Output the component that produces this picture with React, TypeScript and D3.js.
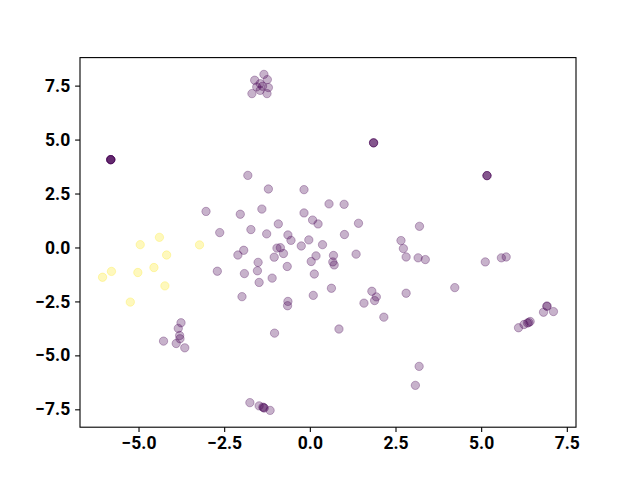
import { useEffect, useRef } from "react";
import * as d3 from "d3";

// label 0 (viridis low end); repeated entries are stacked points
const purpleX = [
  -1.34, -1.61, -1.24, -1.45, -1.55, -1.38, -1.21, -1.45, -1.69, -1.25,
  -5.81, -5.81, -5.81, -5.81, -5.81,
  1.86, 1.86, 1.86,
  5.17, 5.17, 5.17,
  -1.81, -1.21, -0.17, 0.56, 1.0, -3.03, -2.03, -1.4, -0.17, 0.08,
  0.24, 1.42, -0.92, -1.72, -1.26, -2.63, -0.64, 1.01, 3.2, -0.55,
  -0.03, 2.66, 0.37, -0.25, -0.96, -0.86, -1.93, -2.1, 2.73, -0.77,
  0.18, 0.69, 1.35, -1.04, 2.81, 3.16, 3.37, 5.12, 5.59, 5.73,
  -1.51, 0.04, 0.67, 0.71, -0.66, -2.7, -1.53, -1.91, 0.13, -1.1,
  -1.48, 0.63, 4.23, 1.81, 2.81, -1.98, 0.1, 1.94, 1.89, -0.64,
  -0.65, 1.58, 2.16, 0.85, -1.03, 3.19, 3.08,
  6.92, 6.92, 6.82, 7.11,
  6.09, 6.25, 6.35, 6.43, 6.39,
  -3.76, -3.84, -3.8, -3.79, -3.9, -4.27, -3.65,
  -1.75, -1.48, -1.37, -1.33, -1.35, -1.16,
];
const purpleY = [
  8.02, 7.75, 7.78, 7.59, 7.44, 7.47, 7.41, 7.28, 7.13, 7.13,
  4.07, 4.07, 4.07, 4.07, 4.07,
  4.85, 4.85, 4.85,
  3.33, 3.33, 3.33,
  3.34, 2.71, 2.68, 2.02, 2.0, 1.67, 1.54, 1.78, 1.6, 1.27,
  1.09, 1.12, 1.09, 0.83, 0.63, 0.69, 0.58, 0.6, 0.98, 0.33,
  0.35, 0.32, 0.13, 0.07, -0.03, -0.01, -0.13, -0.35, -0.05, -0.28,
  -0.39, -0.37, -0.31, -0.45, -0.44, -0.48, -0.56, -0.67, -0.48, -0.44,
  -0.69, -0.65, -0.67, -0.81, -0.88, -1.1, -1.08, -1.21, -1.23, -1.42,
  -1.62, -1.89, -1.86, -2.03, -2.12, -2.28, -2.22, -2.29, -2.46, -2.5,
  -2.7, -2.58, -3.23, -3.78, -3.97, -5.51, -6.39,
  -2.72, -2.72, -3.0, -2.97,
  -3.72, -3.57, -3.5, -3.43, -3.48,
  -3.49, -3.75, -4.08, -4.23, -4.45, -4.34, -4.65,
  -7.19, -7.34, -7.4, -7.44, -7.42, -7.55,
];

// label 1 (viridis high end)
const yellowX = [-4.95, -4.39, -4.18, -5.79, -6.05, -5.02, -4.55, -4.23, -5.24, -3.22];
const yellowY = [0.13, 0.47, -0.35, -1.11, -1.38, -1.16, -0.93, -1.78, -2.53, 0.12];

const xTicks = [-5, -2.5, 0, 2.5, 5, 7.5];
const yTicks = [-7.5, -5, -2.5, 0, 2.5, 5, 7.5];

const width = 640;
const height = 480;
const margin = { top: 57.6, right: 64, bottom: 52.8, left: 80 };

const pad = (ext: [number, number]) => {
  const r = ext[1] - ext[0];
  return [ext[0] - 0.05 * r, ext[1] + 0.05 * r];
};

const fmt = (v: number) => d3.format(".1f")(v).replace("-", "\u2212");

export default function App() {
  const ref = useRef<SVGSVGElement>(null);

  useEffect(() => {
    if (!ref.current) return;
    const svg = d3.select(ref.current);
    svg.selectAll("*").remove();

    const allX = purpleX.concat(yellowX);
    const allY = purpleY.concat(yellowY);
    const x = d3
      .scaleLinear()
      .domain(pad(d3.extent(allX) as [number, number]))
      .range([margin.left, width - margin.right]);
    const y = d3
      .scaleLinear()
      .domain(pad(d3.extent(allY) as [number, number]))
      .range([height - margin.bottom, margin.top]);

    const pts = purpleX
      .map((v, i) => ({ x: v, y: purpleY[i], c: "#440154" }))
      .concat(yellowX.map((v, i) => ({ x: v, y: yellowY[i], c: "#fde725" })));

    svg
      .append("g")
      .selectAll("circle")
      .data(pts)
      .enter()
      .append("circle")
      .attr("cx", (d) => x(d.x))
      .attr("cy", (d) => y(d.y))
      .attr("r", 4.17)
      .attr("fill", (d) => d.c)
      .attr("fill-opacity", 0.3)
      .attr("stroke", (d) => d.c)
      .attr("stroke-opacity", 0.3)
      .attr("stroke-width", 1);

    // frame
    svg
      .append("rect")
      .attr("x", margin.left)
      .attr("y", margin.top)
      .attr("width", width - margin.left - margin.right)
      .attr("height", height - margin.top - margin.bottom)
      .attr("fill", "none")
      .attr("stroke", "#000")
      .attr("stroke-width", 1.1);

    const xAxis = svg
      .append("g")
      .attr("transform", `translate(0,${height - margin.bottom})`)
      .call(d3.axisBottom(x).tickValues(xTicks).tickFormat((d) => fmt(+d)).tickSize(4.9).tickPadding(4.9));
    const yAxis = svg
      .append("g")
      .attr("transform", `translate(${margin.left},0)`)
      .call(d3.axisLeft(y).tickValues(yTicks).tickFormat((d) => fmt(+d)).tickSize(4.9).tickPadding(4.9));

    [xAxis, yAxis].forEach((g) => {
      g.select(".domain").remove();
      g.selectAll("line").attr("stroke", "#000").attr("stroke-width", 1.1);
      g.selectAll("text")
        .attr("fill", "#000")
        .attr("font-family", "Roboto, sans-serif")
        .attr("font-weight", "700")
        .attr("font-size", "17.5px");
    });
  }, []);

  return (
    <svg
      ref={ref}
      width={width}
      height={height}
      style={{ position: "absolute", left: 0, top: 0, background: "#fff" }}
    ></svg>
  );
}
